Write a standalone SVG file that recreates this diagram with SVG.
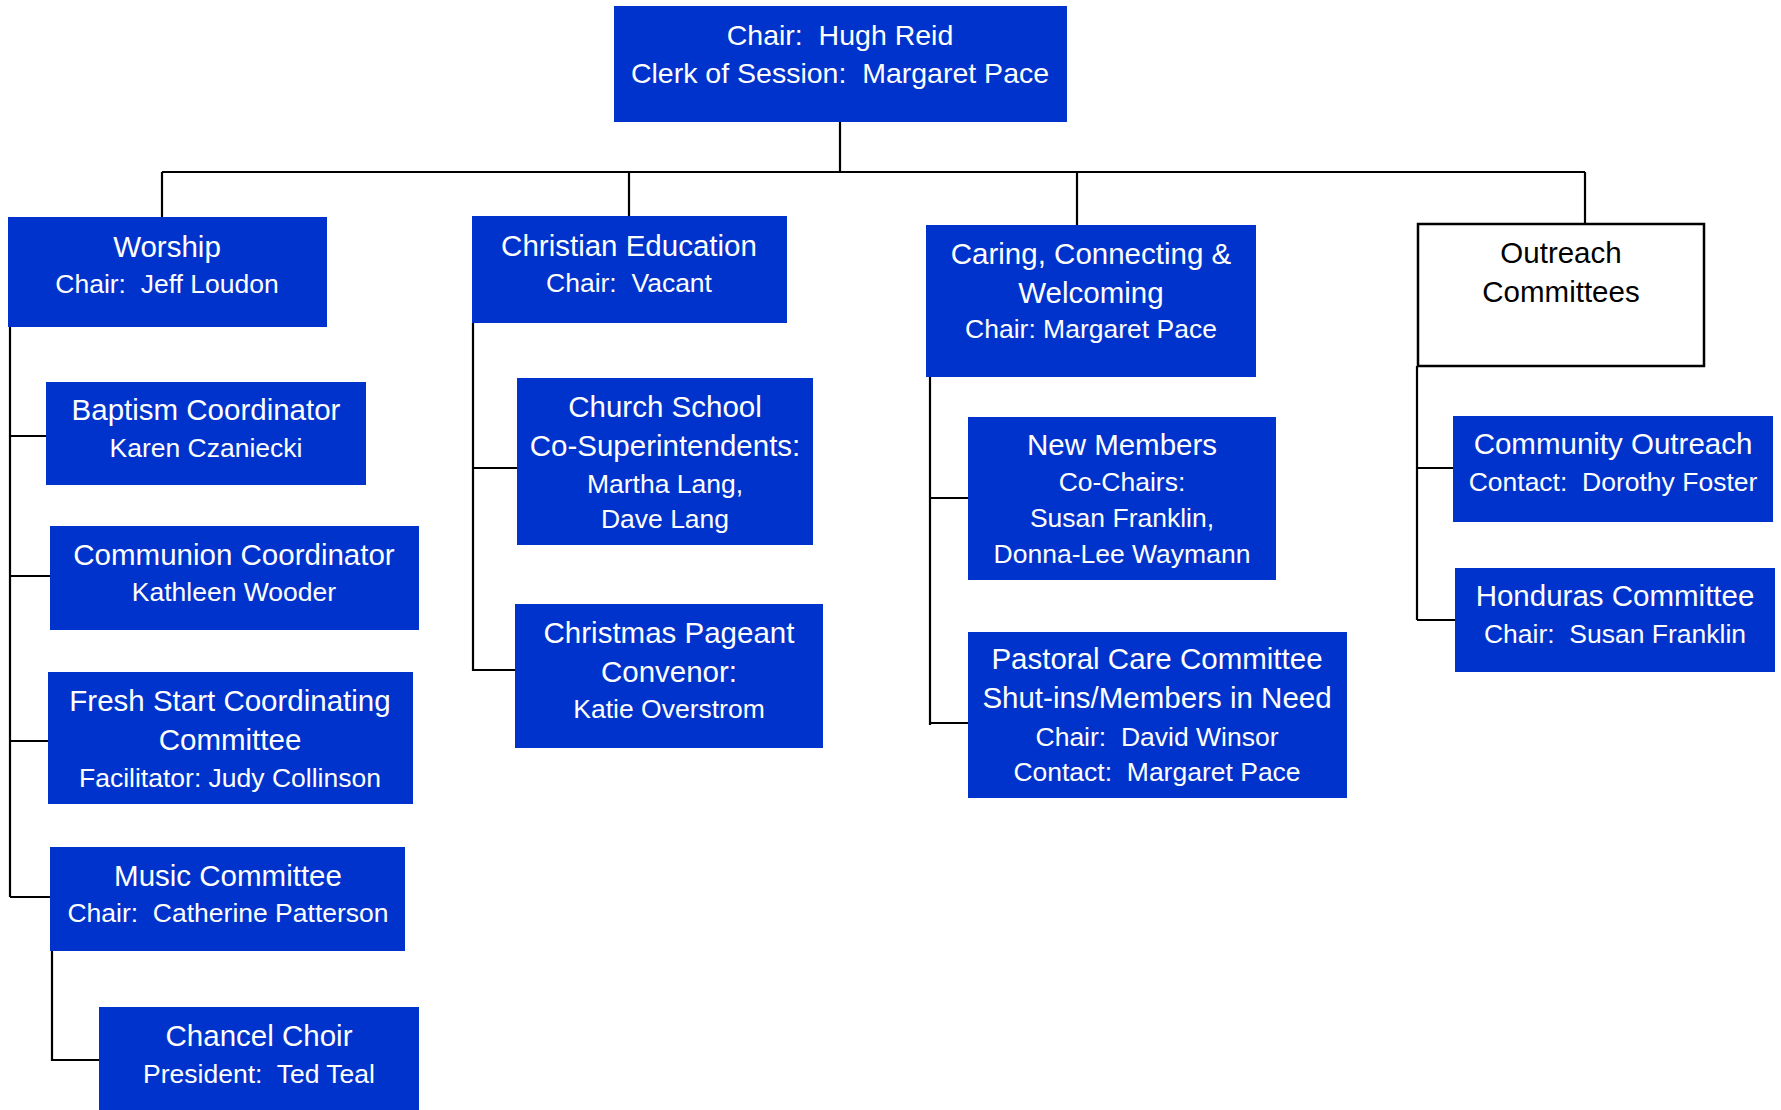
<svg xmlns="http://www.w3.org/2000/svg" width="1781" height="1110" viewBox="0 0 1781 1110" xml:space="preserve">
<style>
.n{fill:#0033cc}
.o{fill:#ffffff;stroke:#000000;stroke-width:2.5}
text{font-family:"Liberation Sans",Arial,sans-serif;text-anchor:middle;fill:#ffffff;white-space:pre}
.t{font-size:29.5px}
.s{font-size:26.5px}
.h{font-size:28.5px}
.k{fill:#000000}
#connectors path{fill:none;stroke:#000000;stroke-width:2.2}
</style>
<rect width="1781" height="1110" fill="#ffffff"/>
<g id="connectors">
<path d="M840 122V172M162 172H1585M162 172V217M629 172V216M1077 172V225M1585 172V224"/>
<path d="M10 326V897M10 436H46M10 576H50M10 741H48M10 897H50M52 951V1060H99"/>
<path d="M473 323V671M473 468H517M473 670H515"/>
<path d="M930 377V725M930 498H968M930 723H968"/>
<path d="M1417 366V620M1417 468H1453M1417 620H1455"/>
</g>
<g id="top">
<rect class="n" x="614" y="6" width="453" height="116"/>
<text class="h" x="840" y="45">Chair:  Hugh Reid</text>
<text class="h" x="840" y="83">Clerk of Session:  Margaret Pace</text>
</g>
<g id="worship">
<rect class="n" x="8" y="217" width="319" height="110"/>
<text class="t" x="167" y="257">Worship</text>
<text class="s" x="167" y="293">Chair:  Jeff Loudon</text>
</g>
<g id="baptism">
<rect class="n" x="46" y="382" width="320" height="103"/>
<text class="t" x="206" y="420">Baptism Coordinator</text>
<text class="s" x="206" y="457">Karen Czaniecki</text>
</g>
<g id="communion">
<rect class="n" x="50" y="526" width="369" height="104"/>
<text class="t" x="234" y="565">Communion Coordinator</text>
<text class="s" x="234" y="601">Kathleen Wooder</text>
</g>
<g id="freshstart">
<rect class="n" x="48" y="672" width="365" height="132"/>
<text class="t" x="230" y="711">Fresh Start Coordinating</text>
<text class="t" x="230" y="750">Committee</text>
<text class="s" x="230" y="787">Facilitator: Judy Collinson</text>
</g>
<g id="music">
<rect class="n" x="50" y="847" width="355" height="104"/>
<text class="t" x="228" y="886">Music Committee</text>
<text class="s" x="228" y="922">Chair:  Catherine Patterson</text>
</g>
<g id="chancel">
<rect class="n" x="99" y="1007" width="320" height="105"/>
<text class="t" x="259" y="1046">Chancel Choir</text>
<text class="s" x="259" y="1083">President:  Ted Teal</text>
</g>
<g id="christianeducation">
<rect class="n" x="472" y="216" width="315" height="107"/>
<text class="t" x="629" y="256">Christian Education</text>
<text class="s" x="629" y="292">Chair:  Vacant</text>
</g>
<g id="churchschool">
<rect class="n" x="517" y="378" width="296" height="167"/>
<text class="t" x="665" y="417">Church School</text>
<text class="t" x="665" y="456">Co-Superintendents:</text>
<text class="s" x="665" y="493">Martha Lang,</text>
<text class="s" x="665" y="528">Dave Lang</text>
</g>
<g id="christmas">
<rect class="n" x="515" y="604" width="308" height="144"/>
<text class="t" x="669" y="643">Christmas Pageant</text>
<text class="t" x="669" y="682">Convenor:</text>
<text class="s" x="669" y="718">Katie Overstrom</text>
</g>
<g id="caring">
<rect class="n" x="926" y="225" width="330" height="152"/>
<text class="t" x="1091" y="264">Caring, Connecting &amp;</text>
<text class="t" x="1091" y="303">Welcoming</text>
<text class="s" x="1091" y="338">Chair: Margaret Pace</text>
</g>
<g id="newmembers">
<rect class="n" x="968" y="417" width="308" height="163"/>
<text class="t" x="1122" y="455">New Members</text>
<text class="s" x="1122" y="491">Co-Chairs:</text>
<text class="s" x="1122" y="527">Susan Franklin,</text>
<text class="s" x="1122" y="563">Donna-Lee Waymann</text>
</g>
<g id="pastoral">
<rect class="n" x="968" y="632" width="379" height="166"/>
<text class="t" x="1157" y="669">Pastoral Care Committee</text>
<text class="t" x="1157" y="708">Shut-ins/Members in Need</text>
<text class="s" x="1157" y="746">Chair:  David Winsor</text>
<text class="s" x="1157" y="781">Contact:  Margaret Pace</text>
</g>
<g id="outreach">
<rect class="o" x="1418" y="224" width="286" height="142"/>
<text class="t k" x="1561" y="263">Outreach</text>
<text class="t k" x="1561" y="302">Committees</text>
</g>
<g id="community">
<rect class="n" x="1453" y="416" width="320" height="106"/>
<text class="t" x="1613" y="454">Community Outreach</text>
<text class="s" x="1613" y="491">Contact:  Dorothy Foster</text>
</g>
<g id="honduras">
<rect class="n" x="1455" y="568" width="320" height="104"/>
<text class="t" x="1615" y="606">Honduras Committee</text>
<text class="s" x="1615" y="643">Chair:  Susan Franklin</text>
</g>
</svg>
